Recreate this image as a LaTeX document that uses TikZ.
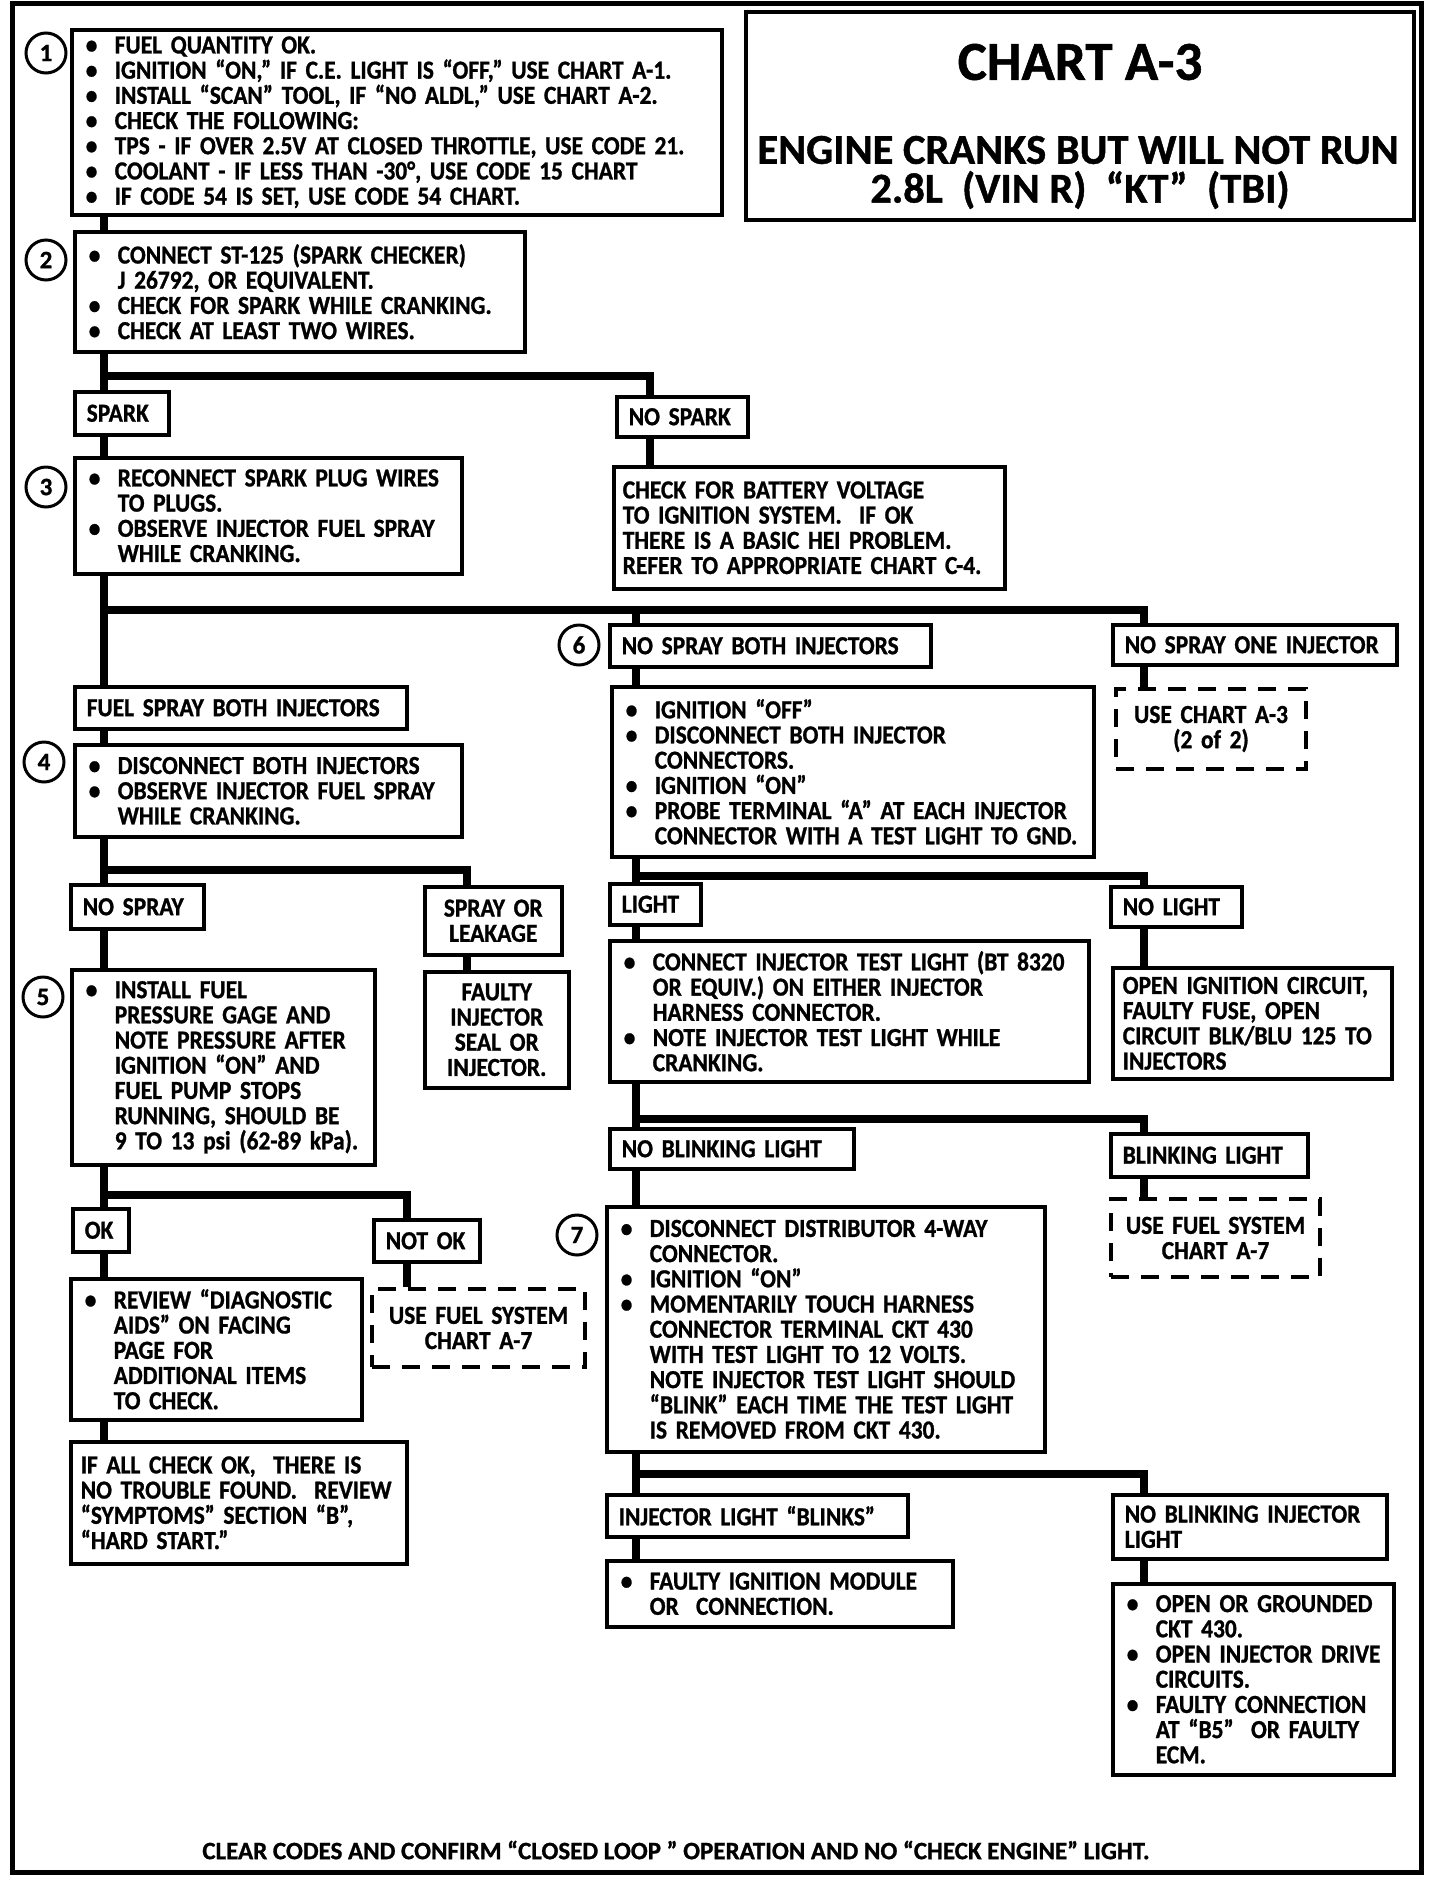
\documentclass[tikz,border=0pt]{standalone}
\usepackage{fontspec}
\newfontfamily\chartfont{Carlito}[FakeStretch=0.9, FakeBold=1]
\newfontfamily\headfont{Carlito}[FakeBold=1]
\newcommand{\txt}{\chartfont\bfseries\fontsize{26}{25.2}\selectfont}
\newcommand{\bigfont}{\headfont\bfseries\fontsize{55}{56}\selectfont}
\newcommand{\subfont}{\headfont\bfseries\fontsize{42.5}{45}\selectfont}
\newcommand{\numfont}{\headfont\bfseries\fontsize{25}{25}\selectfont}
\newcommand{\footfont}{\headfont\bfseries\fontsize{25}{25}\selectfont}
\newcommand{\bul}{\hspace*{9pt}\makebox[29pt][l]{\textbullet}}
\newcommand{\cont}{\hspace*{38pt}}

\begin{document}
\begin{tikzpicture}[x=1pt,y=-1pt,
  box/.style={draw, line width=3.5pt, anchor=north west, inner xsep=5pt, inner ysep=0pt, align=left, font=\txt},
  tag/.style={box, inner xsep=12pt},
  dbox/.style={box, line width=4pt, inner xsep=6pt, dash pattern=on 18pt off 12pt, align=center},
  num/.style={draw, circle, fill=white, line width=3pt, minimum size=40pt, inner sep=0pt, font=\numfont},
  link/.style={line width=8pt}]
\useasboundingbox (0,0) rectangle (1440,1880);
\draw[line width=5pt] (12,3) rectangle (1421,1872);

% columns of the connectors
\coordinate (tl) at (104,0);
\coordinate (tm) at (636,0);
\coordinate (tr) at (1144,0);
\coordinate (tns) at (650,0);
\coordinate (tsol) at (467,0);
\coordinate (tnot) at (407,0);

% title
\node[box, minimum width=668pt, minimum height=208pt] (title) at (744,10) {};
\node[font=\bigfont] (chart) at (1080,62) {CHART A-3};
\node[font=\subfont] (sub1) at (1078,150) {ENGINE CRANKS BUT WILL NOT RUN};
\node[font=\subfont] (sub2) at (1080,190) {2.8L\ \ (VIN R)\ \ “KT”\ \ (TBI)};

% left column
\node[box, text width=640pt, minimum height=185pt] (chk) at (70,28) {\bul FUEL QUANTITY OK.\\
\bul IGNITION “ON,” IF C.E. LIGHT IS “OFF,” USE CHART A-1.\\
\bul INSTALL “SCAN” TOOL, IF “NO ALDL,” USE CHART A-2.\\
\bul CHECK THE FOLLOWING:\\
\bul TPS - IF OVER 2.5V AT CLOSED THROTTLE, USE CODE 21.\\
\bul COOLANT - IF LESS THAN -30°, USE CODE 15 CHART\\
\bul IF CODE 54 IS SET, USE CODE 54 CHART.};
\node[box, text width=440pt, minimum height=120pt] (spk) at (73,230) {\bul CONNECT ST-125 (SPARK CHECKER)\\
\cont J 26792, OR EQUIVALENT.\\
\bul CHECK FOR SPARK WHILE CRANKING.\\
\bul CHECK AT LEAST TWO WIRES.};
\node[tag, text width=70pt, minimum height=43pt] (spark) at (73,390) {SPARK};
\node[box, text width=377pt, minimum height=116pt] (plug) at (73,456) {\bul RECONNECT SPARK PLUG WIRES\\
\cont TO PLUGS.\\
\bul OBSERVE INJECTOR FUEL SPRAY\\
\cont WHILE CRANKING.};
\node[tag, text width=308pt, minimum height=42pt] (fsb) at (73,685) {FUEL SPRAY BOTH INJECTORS};
\node[box, text width=377pt, minimum height=92pt] (disc) at (73,743) {\bul DISCONNECT BOTH INJECTORS\\
\bul OBSERVE INJECTOR FUEL SPRAY\\
\cont WHILE CRANKING.};
\node[tag, text width=109pt, minimum height=44pt] (nospray) at (69,883) {NO SPRAY};
\node[tag, text width=113pt, minimum height=68pt, align=center] (sol) at (423,885) {SPRAY OR\\ LEAKAGE};
\node[tag, text width=120pt, minimum height=116pt, align=center] (fis) at (423,970) {FAULTY\\ INJECTOR\\ SEAL OR\\ INJECTOR.};
\node[box, text width=293pt, minimum height=195pt] (gage) at (70,968) {\bul INSTALL FUEL\\
\cont PRESSURE GAGE AND\\
\cont NOTE PRESSURE AFTER\\
\cont IGNITION “ON” AND\\
\cont FUEL PUMP STOPS\\
\cont RUNNING, SHOULD BE\\
\cont 9 TO 13 psi\ (62-89 kPa).};
\node[tag, text width=32pt, minimum height=43pt] (ok) at (71,1207) {OK};
\node[tag, text width=82pt, minimum height=42pt] (notok) at (372,1218) {NOT OK};
\node[dbox, text width=201pt, minimum height=78pt] (fuel1) at (370,1287) {USE FUEL SYSTEM\\ CHART A-7};
\node[box, text width=281pt, minimum height=141pt] (review) at (69,1277) {\bul REVIEW “DIAGNOSTIC\\
\cont AIDS” ON FACING\\
\cont PAGE FOR\\
\cont ADDITIONAL ITEMS\\
\cont TO CHECK.};
\node[tag, inner xsep=10pt, text width=316pt, minimum height=122pt] (allok) at (69,1440) {IF ALL CHECK OK,\ \ THERE IS\\
NO TROUBLE FOUND.\ \ REVIEW\\
“SYMPTOMS” SECTION “B”,\\
“HARD START.”};

% right column
\node[tag, text width=107pt, minimum height=40pt] (nospark) at (615,395) {NO SPARK};
\node[tag, inner xsep=9pt, text width=373pt, minimum height=122pt] (hei) at (612,465) {CHECK FOR BATTERY VOLTAGE\\
TO IGNITION SYSTEM.\ \ IF OK\\
THERE IS A BASIC HEI PROBLEM.\\
REFER TO APPROPRIATE CHART C-4.};
\node[tag, text width=297pt, minimum height=42pt] (nsb) at (608,623) {NO SPRAY BOTH INJECTORS};
\node[tag, text width=260pt, minimum height=40pt] (nso) at (1111,623) {NO SPRAY ONE INJECTOR};
\node[dbox, text width=178pt, minimum height=80pt] (usea3) at (1114,687) {USE CHART A-3\\ (2 of 2)};
\node[box, text width=472pt, minimum height=170pt] (probe) at (610,685) {\bul IGNITION “OFF”\\
\bul DISCONNECT BOTH INJECTOR\\
\cont CONNECTORS.\\
\bul IGNITION “ON”\\
\bul PROBE TERMINAL “A” AT EACH INJECTOR\\
\cont CONNECTOR WITH A TEST LIGHT TO GND.};
\node[tag, text width=67pt, minimum height=41pt] (light) at (608,882) {LIGHT};
\node[tag, text width=107pt, minimum height=40pt] (nolight) at (1109,885) {NO LIGHT};
\node[box, text width=469pt, minimum height=141pt] (tlt) at (608,939) {\bul CONNECT INJECTOR TEST LIGHT (BT 8320\\
\cont OR EQUIV.) ON EITHER INJECTOR\\
\cont HARNESS CONNECTOR.\\
\bul NOTE INJECTOR TEST LIGHT WHILE\\
\cont CRANKING.};
\node[tag, inner xsep=10pt, text width=259pt, minimum height=111pt] (openign) at (1111,966) {OPEN IGNITION CIRCUIT,\\
FAULTY FUSE, OPEN\\
CIRCUIT BLK/BLU 125 TO\\
INJECTORS};
\node[tag, text width=220pt, minimum height=40pt] (noblink) at (608,1127) {NO BLINKING LIGHT};
\node[tag, text width=173pt, minimum height=43pt] (blink) at (1109,1132) {BLINKING LIGHT};
\node[dbox, text width=197pt, minimum height=78pt] (fuel2) at (1109,1197) {USE FUEL SYSTEM\\ CHART A-7};
\node[box, text width=428pt, minimum height=245pt] (touch) at (605,1205) {\bul DISCONNECT DISTRIBUTOR 4-WAY\\
\cont CONNECTOR.\\
\bul IGNITION “ON”\\
\bul MOMENTARILY TOUCH HARNESS\\
\cont CONNECTOR TERMINAL CKT 430\\
\cont WITH TEST LIGHT TO 12 VOLTS.\\
\cont NOTE INJECTOR TEST LIGHT SHOULD\\
\cont “BLINK” EACH TIME THE TEST LIGHT\\
\cont IS REMOVED FROM CKT 430.};
\node[tag, text width=277pt, minimum height=42pt] (blinks) at (605,1493) {INJECTOR LIGHT “BLINKS”};
\node[tag, text width=250pt, minimum height=64pt] (nobinj) at (1111,1493) {NO BLINKING INJECTOR\\ LIGHT};
\node[box, text width=336pt, minimum height=66pt] (module) at (605,1559) {\bul FAULTY IGNITION MODULE\\
\cont OR\ \ CONNECTION.};
\node[box, text width=271pt, minimum height=191pt] (ecm) at (1111,1582) {\bul OPEN OR GROUNDED\\
\cont CKT 430.\\
\bul OPEN INJECTOR DRIVE\\
\cont CIRCUITS.\\
\bul FAULTY CONNECTION\\
\cont AT “B5”\ \ OR FAULTY\\
\cont ECM.};

\node[font=\footfont] (clear) at (676,1850) {CLEAR CODES AND CONFIRM “CLOSED LOOP ” OPERATION AND NO “CHECK ENGINE” LIGHT.};

% connectors
\draw[link] (chk.south -| tl) -- (spk.north -| tl);
\draw[link] (spk.south -| tl) -- (spark.north -| tl);
\draw[link] (spk.south -| tl) ++(0,22) -| (nospark.north -| tns);
\draw[link] (spark.south -| tl) -- (plug.north -| tl);
\draw[link] (nospark.south -| tns) -- (hei.north -| tns);
\draw[link] (plug.south -| tl) -- (fsb.north -| tl);
\draw[link] (plug.south -| tl) ++(0,34) -| (nso.north -| tr);
\draw[link] (plug.south -| tm) ++(0,34) -- (nsb.north -| tm);
\draw[link] (nso.south -| tr) -- (usea3.north -| tr);
\draw[link] (nsb.south -| tm) -- (probe.north -| tm);
\draw[link] (fsb.south -| tl) -- (disc.north -| tl);
\draw[link] (disc.south -| tl) -- (nospray.north -| tl);
\draw[link] (disc.south -| tl) ++(0,31) -| (sol.north -| tsol);
\draw[link] (sol.south -| tsol) -- (fis.north -| tsol);
\draw[link] (nospray.south -| tl) -- (gage.north -| tl);
\draw[link] (gage.south -| tl) -- (ok.north -| tl);
\draw[link] (gage.south -| tl) ++(0,28) -| (notok.north -| tnot);
\draw[link] (notok.south -| tnot) -- (fuel1.north -| tnot);
\draw[link] (ok.south -| tl) -- (review.north -| tl);
\draw[link] (review.south -| tl) -- (allok.north -| tl);
\draw[link] (probe.south -| tm) -- (light.north -| tm);
\draw[link] (probe.south -| tm) ++(0,17) -| (nolight.north -| tr);
\draw[link] (nolight.south -| tr) -- (openign.north -| tr);
\draw[link] (light.south -| tm) -- (tlt.north -| tm);
\draw[link] (tlt.south -| tm) -- (noblink.north -| tm);
\draw[link] (tlt.south -| tm) ++(0,35) -| (blink.north -| tr);
\draw[link] (blink.south -| tr) -- (fuel2.north -| tr);
\draw[link] (noblink.south -| tm) -- (touch.north -| tm);
\draw[link] (touch.south -| tm) -- (blinks.north -| tm);
\draw[link] (touch.south -| tm) ++(0,20) -| (nobinj.north -| tr);
\draw[link] (blinks.south -| tm) -- (module.north -| tm);
\draw[link] (nobinj.south -| tr) -- (ecm.north -| tr);

% step numbers
\node[num] (n1) at (46,53) {1};
\node[num] (n2) at (46,260) {2};
\node[num] (n3) at (46,487) {3};
\node[num] (n4) at (44,762) {4};
\node[num] (n5) at (43,997) {5};
\node[num] (n6) at (579,645) {6};
\node[num] (n7) at (577,1235) {7};
\end{tikzpicture}
\end{document}
